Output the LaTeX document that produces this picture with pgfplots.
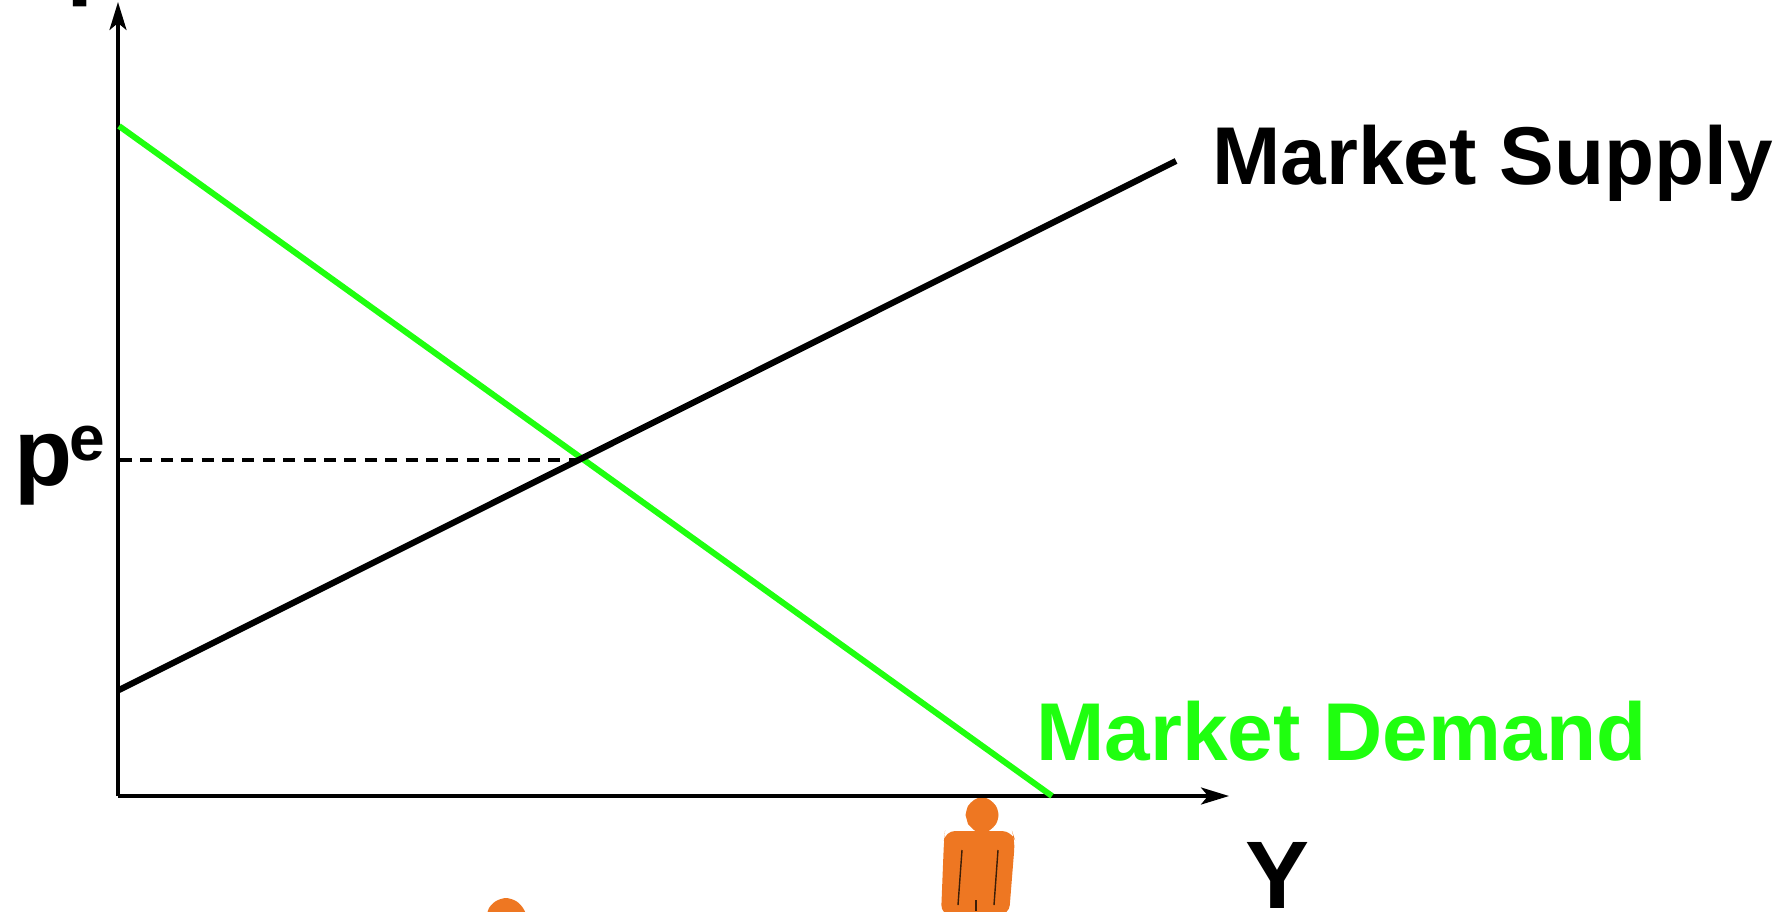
\documentclass[border=0pt]{standalone}
\usepackage{fontspec}
\setmainfont{Liberation Sans}
\usepackage{pgfplots}
\pgfplotsset{compat=1.18}
\usetikzlibrary{arrows.meta}
\definecolor{mgreen}{HTML}{1FFF0F}
\definecolor{morange}{HTML}{EE7722}
\begin{document}
\begin{tikzpicture}[x=1pt,y=1pt]
\useasboundingbox (0,0) rectangle (895.5,455.5);
\clip (0,0) rectangle (895.5,455.5);
\begin{axis}[
  at={(0pt,0pt)},anchor=south west,
  width=895.5pt,height=455.5pt,scale only axis,
  hide axis,
  xmin=0,xmax=1791,ymin=0,ymax=911,y dir=reverse,
  clip=true,
]
% second person head (cut off at the bottom)
\addplot[draw=none,fill=morange,smooth] coordinates {(486,918) (489,908) (496,901) (506,898) (516,901) (523,908) (527,918) (523,928) (506,938) (489,928)} --cycle;
% first person
\addplot[draw=none,fill=morange,smooth] coordinates {(965.5,815) (968,806) (974,800) (982,797) (990,800) (996,806) (998.5,815) (996,824) (990,830) (982,834) (974,830) (968,824)} --cycle;
\addplot[draw=none,fill=morange,rounded corners=5pt] coordinates {(945,831) (1012,831) (1015,840) (1009,915) (941,915) (944,840)} --cycle;
\addplot[black!75!morange,line width=0.7pt] coordinates {(962,850) (958,905)};
\addplot[black!75!morange,line width=0.7pt] coordinates {(998,850) (994,905)};
\addplot[black!75!morange,line width=0.7pt] coordinates {(976,900) (976,911)};
% axes
\addplot[black,line width=1.7pt,-{Stealth[length=14pt,width=8.5pt,inset=3.5pt]}] coordinates {(118,796) (118,2)};
\addplot[black,line width=1.7pt,-{Stealth[length=14pt,width=8.5pt,inset=3.5pt]}] coordinates {(118,796) (1229,796)};
% equilibrium
\addplot[black,line width=1.6pt,dash pattern=on 6pt off 4.2pt] coordinates {(120,460) (582,460)};
% curves
\addplot[mgreen,line width=3pt] coordinates {(119,126) (1052,796)};
\addplot[black,line width=3.1pt] coordinates {(119,690) (1176,161)};
% labels
\node[anchor=base west,inner sep=0pt,font=\fontsize{41}{50}\selectfont\bfseries] at (axis cs:1212,184) {Market Supply};
\node[anchor=base west,inner sep=0pt,text=mgreen,font=\fontsize{41}{50}\selectfont\bfseries] at (axis cs:1036,760) {Market Demand};
\node[anchor=base west,inner sep=0pt,font=\fontsize{48}{50}\selectfont\bfseries] at (axis cs:1245,908) {Y};
\node[anchor=base west,inner sep=0pt,font=\fontsize{47.5}{50}\selectfont\bfseries] at (axis cs:14,485) {p};
\node[anchor=base west,inner sep=0pt,font=\fontsize{32}{50}\selectfont\bfseries] at (axis cs:69,460) {e};
\node[anchor=base west,inner sep=0pt,font=\fontsize{49}{50}\selectfont\bfseries] at (axis cs:66,-14) {p};
\end{axis}
\end{tikzpicture}
\end{document}
